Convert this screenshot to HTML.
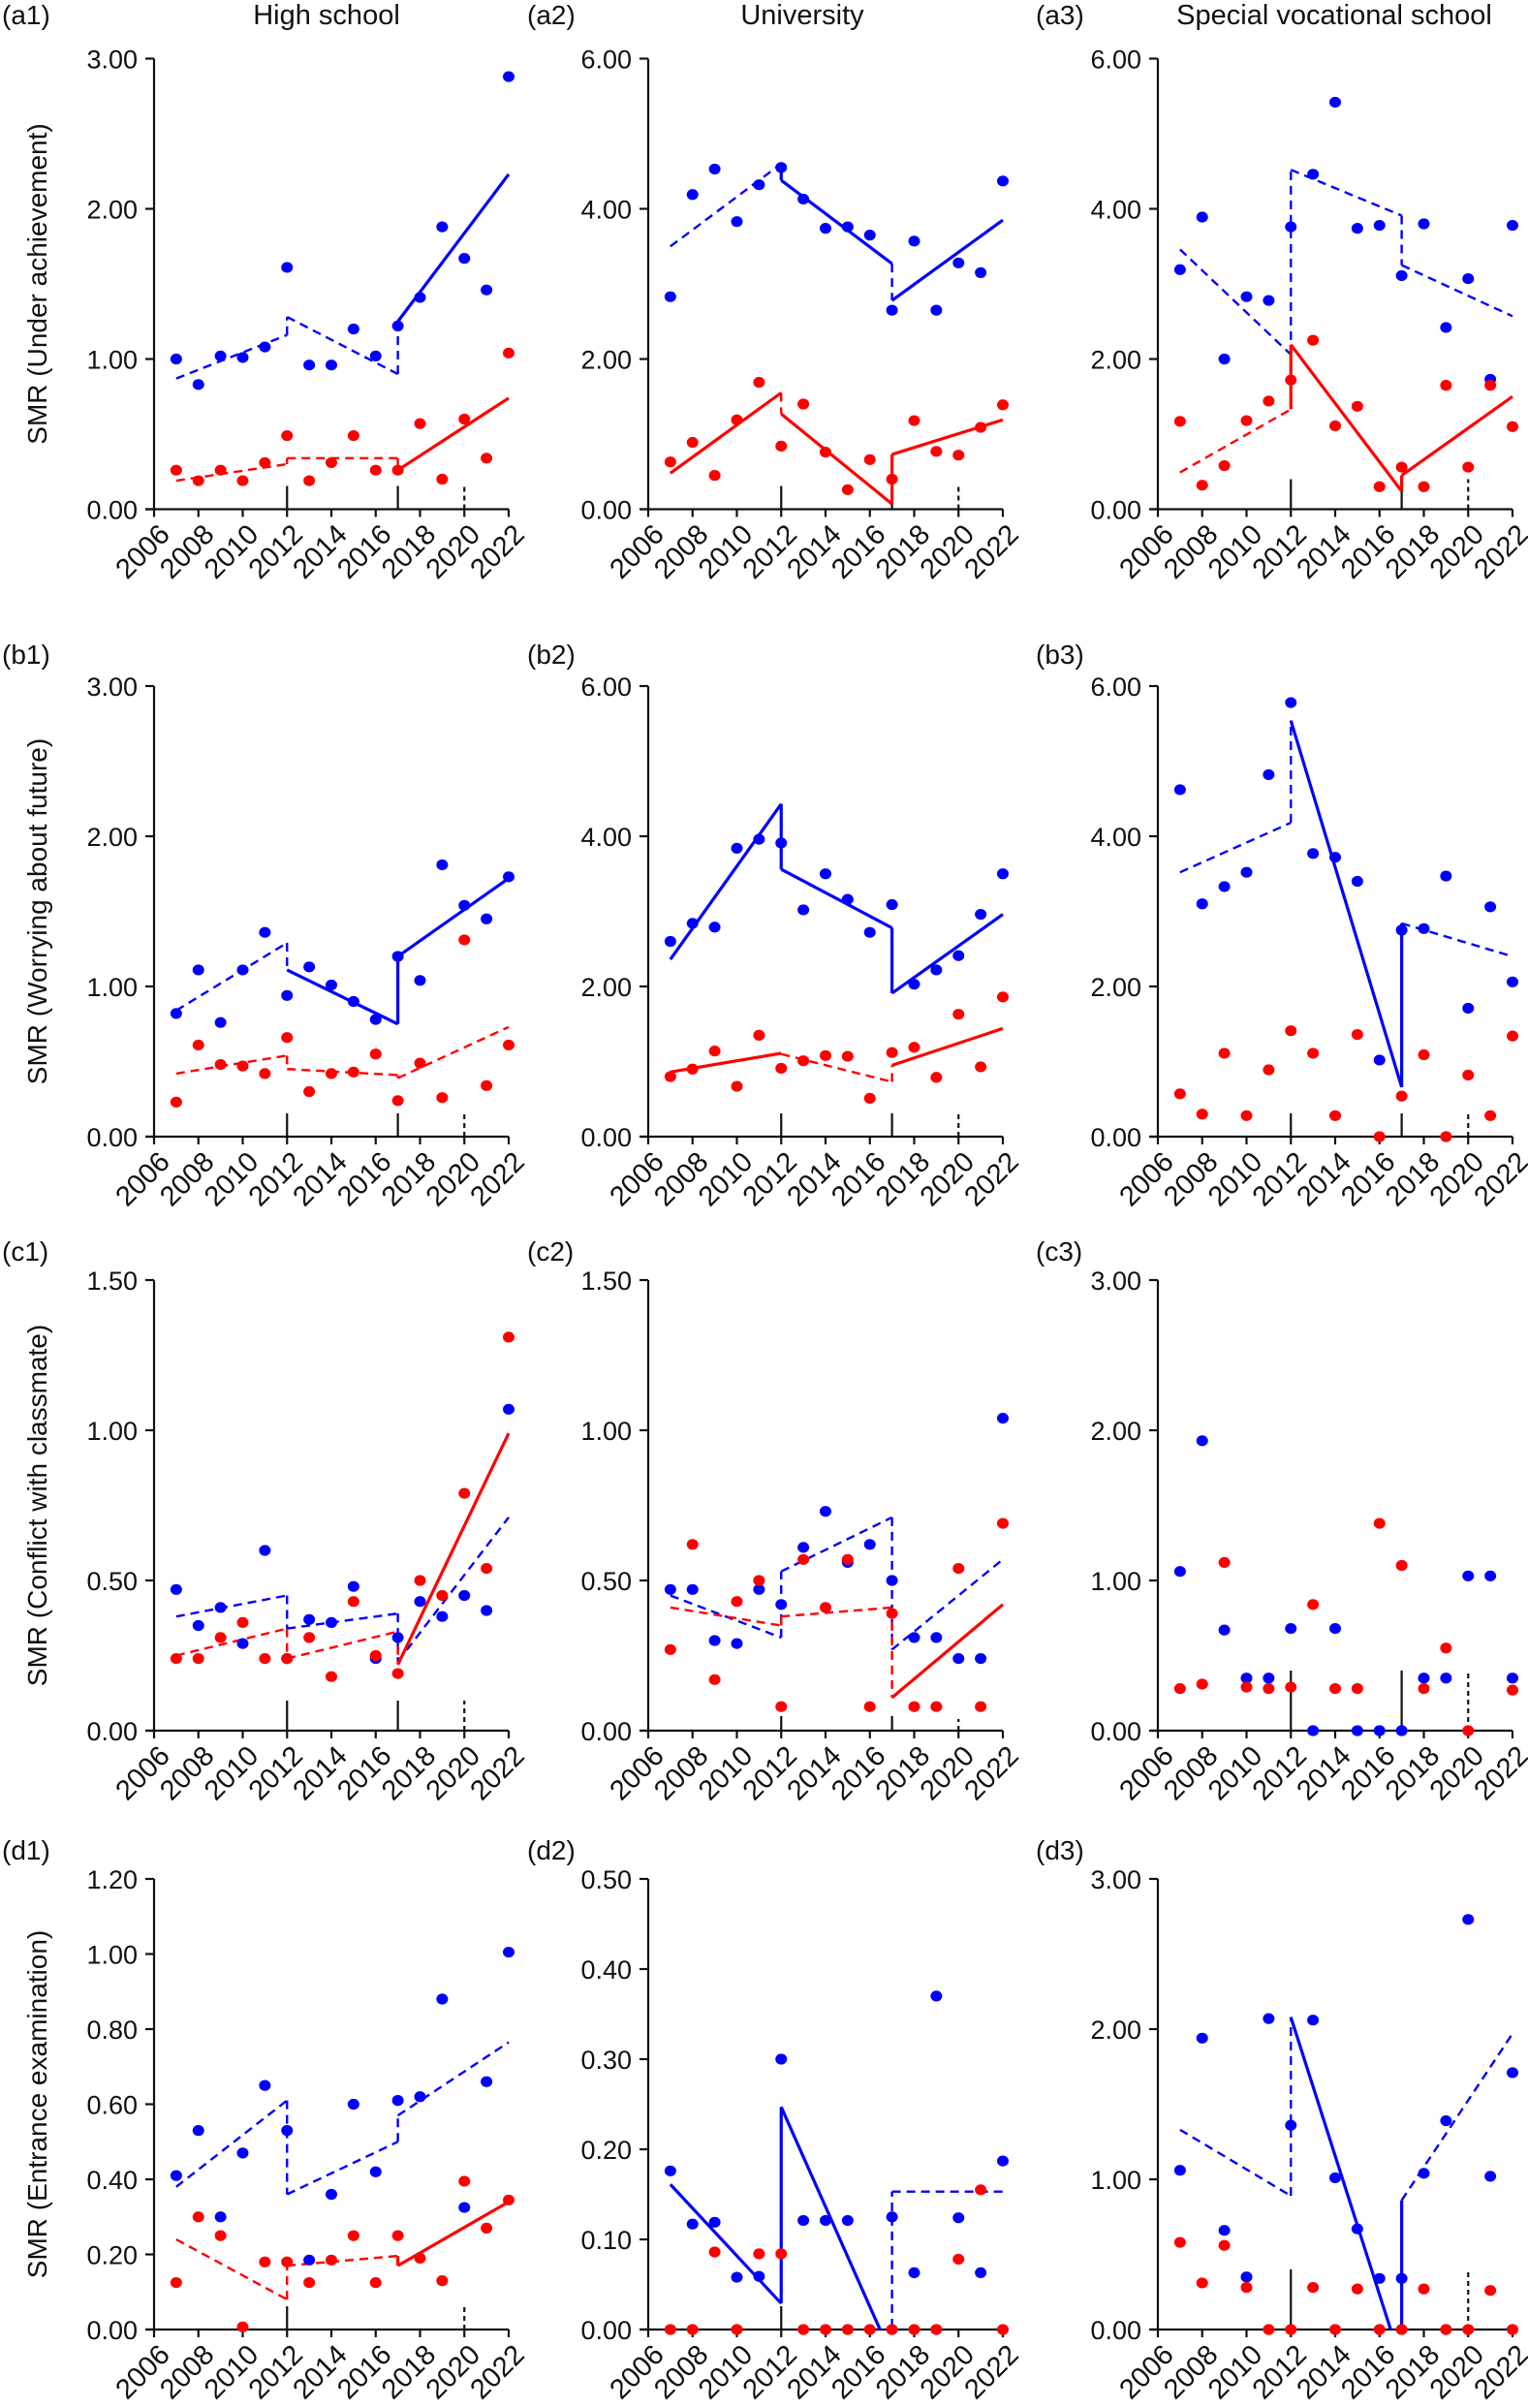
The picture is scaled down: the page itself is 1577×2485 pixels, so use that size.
<!DOCTYPE html>
<html>
<head>
<meta charset="utf-8">
<style>
html,body{margin:0;padding:0;background:#fff;}
svg{display:block;}
text{font-family:"Liberation Sans",sans-serif;fill:#111;}
</style>
</head>
<body>
<svg id="fig" width="1577" height="2485" viewBox="0 0 1577 2485" xmlns="http://www.w3.org/2000/svg">
<rect x="0" y="0" width="1577" height="2485" fill="#fff"/>
<text x="337" y="25" font-size="29" text-anchor="middle">High school</text>
<text x="828" y="25" font-size="29" text-anchor="middle">University</text>
<text x="1377" y="25" font-size="29" text-anchor="middle">Special vocational school</text>
</svg>
<script>
const years = [2007,2008,2009,2010,2011,2012,2013,2014,2015,2016,2017,2018,2019,2020,2021,2022];
const xTickYears = [2006,2008,2010,2012,2014,2016,2018,2020,2022];

const a1Blue = [1.00,0.83,1.02,1.01,1.08,1.61,0.96,0.96,1.20,1.02,1.22,1.41,1.88,1.67,1.46,2.88];
const a1Red  = [0.26,0.19,0.26,0.19,0.31,0.49,0.19,0.31,0.49,0.26,0.26,0.57,0.20,0.60,0.34,1.04];
const a1BlueFit = [0.87,1.16,1.28,0.90,1.25,2.23];
const a1RedFit  = [0.19,0.30,0.34,0.34,0.26,0.74];

const a2Blue = [2.83,4.19,4.53,3.83,4.32,4.55,4.13,3.74,3.76,3.65,2.65,3.57,2.65,3.28,3.15,4.37];
const a2Red  = [0.63,0.89,0.45,1.19,1.69,0.84,1.40,0.76,0.26,0.66,0.40,1.18,0.77,0.72,1.09,1.39];
const a2BlueFit = [3.50,4.60,4.38,3.27,2.78,3.85];
const a2RedFit  = [0.48,1.55,1.27,0.07,0.73,1.19];

const a3Blue = [3.19,3.89,2.00,2.83,2.78,3.76,4.46,5.42,3.74,3.78,3.11,3.80,2.42,3.07,1.73,3.78];
const a3Red  = [1.17,0.32,0.58,1.18,1.44,1.72,2.25,1.11,1.37,0.30,0.56,0.30,1.65,0.56,1.65,1.10];
const a3BlueFit = [3.46,2.06,4.52,3.91,3.25,2.57];
const a3RedFit  = [0.49,1.33,2.19,0.24,0.45,1.50];

const b1Blue = [0.82,1.11,0.76,1.11,1.36,0.94,1.13,1.01,0.90,0.78,1.20,1.04,1.81,1.54,1.45,1.73];
const b1Red  = [0.23,0.61,0.48,0.47,0.42,0.66,0.30,0.42,0.43,0.55,0.24,0.49,0.26,1.31,0.34,0.61];
const b1BlueFit = [0.84,1.29,1.11,0.75,1.20,1.72];
const b1RedFit  = [0.42,0.54,0.45,0.41,0.39,0.73];

const b2Blue = [2.60,2.84,2.79,3.84,3.96,3.91,3.02,3.50,3.16,2.72,3.09,2.03,2.22,2.41,2.96,3.50];
const b2Red  = [0.80,0.90,1.14,0.67,1.35,0.91,1.01,1.08,1.07,0.51,1.12,1.19,0.79,1.63,0.93,1.86];
const b2BlueFit = [2.36,4.43,3.56,2.78,1.91,2.96];
const b2RedFit  = [0.86,1.11,1.10,0.73,0.95,1.44];

const b3Blue = [4.62,3.10,3.33,3.52,4.82,5.78,3.77,3.72,3.40,1.02,2.75,2.77,3.47,1.71,3.06,2.06];
const b3Red  = [0.57,0.30,1.11,0.28,0.89,1.41,1.11,0.28,1.36,0.00,0.54,1.09,0.00,0.82,0.28,1.34];
const b3BlueFit = [3.52,4.18,5.54,0.66,2.84,2.40];

const c1Blue = [0.47,0.35,0.41,0.29,0.60,0.24,0.37,0.36,0.48,0.24,0.31,0.43,0.38,0.45,0.40,1.07];
const c1Red  = [0.24,0.24,0.31,0.36,0.24,0.24,0.31,0.18,0.43,0.25,0.19,0.50,0.45,0.79,0.54,1.31];
const c1BlueFit = [0.38,0.45,0.34,0.39,0.23,0.71];
const c1RedFit  = [0.25,0.34,0.24,0.33,0.22,0.99];

const c2Blue = [0.47,0.47,0.30,0.29,0.47,0.42,0.61,0.73,0.56,0.62,0.50,0.31,0.31,0.24,0.24,1.04];
const c2Red  = [0.27,0.62,0.17,0.43,0.50,0.08,0.57,0.41,0.57,0.08,0.39,0.08,0.08,0.54,0.08,0.69];
const c2BlueFit = [0.45,0.31,0.53,0.71,0.27,0.57];
const c2RedFit  = [0.41,0.35,0.38,0.41,0.11,0.42];

const c3Blue = [1.06,1.93,0.67,0.35,0.35,0.68,0.00,0.68,0.00,0.00,0.00,0.35,0.35,1.03,1.03,0.35];
const c3Red  = [0.28,0.31,1.12,0.29,0.28,0.29,0.84,0.28,0.28,1.38,1.10,0.28,0.55,0.00,null,0.27];

const d1Blue = [0.41,0.53,0.30,0.47,0.65,0.53,0.185,0.36,0.60,0.42,0.61,0.62,0.88,0.325,0.66,1.005];
const d1Red  = [0.125,0.30,0.25,0.007,0.18,0.18,0.125,0.185,0.25,0.125,0.25,0.19,0.13,0.395,0.27,0.345];
const d1BlueFit = [0.38,0.61,0.36,0.50,0.57,0.765];
const d1RedFit  = [0.24,0.08,0.17,0.196,0.17,0.34];

const d2Blue = [0.176,0.117,0.119,0.058,0.059,0.30,0.121,0.121,0.121,null,0.125,0.063,0.37,0.124,0.063,0.187];
const d2Red  = [0,0,0.086,0,0.084,0.084,0,0,0,0,0,0,0,0.078,0.155,0];
const d2BlueFit = [0.161,0.029,0.247,-0.03,0.153,0.153];

const d3Blue = [1.06,1.94,0.66,0.35,2.07,1.36,2.06,1.01,0.67,0.34,0.34,1.04,1.39,2.73,1.02,1.71];
const d3Red  = [0.58,0.31,0.56,0.28,0,0,0.28,0,0.27,0,0,0.27,0,0,0.26,0];
const d3BlueFit = [1.33,0.89,2.08,-0.23,0.86,1.97];

const ticks3 = [0,1,2,3];
const ticks6 = [0,2,4,6];
const ticks15 = [0,0.5,1,1.5];
const ticks12 = [0,0.2,0.4,0.6,0.8,1.0,1.2];
const ticks05 = [0,0.1,0.2,0.3,0.4,0.5];

const colX = [159, 669, 1195];
const rowY = [60.5, 708, 1321, 1939];
const PW = 366, PH = 465;
const yTitles = ["SMR (Under achievement)","SMR (Worrying about future)","SMR (Conflict with classmate)","SMR (Entrance examination)"];
const labelY = [25, 685, 1301, 1919];
const labelX = [2, 544, 1069];

const panels = [
 {id:'a1',r:0,c:0,max:3,ticks:ticks3,blue:a1Blue,red:a1Red,bf:a1BlueFit,rf:a1RedFit,bs:'ddsdd',rs:'ddsdd',mk:[[2012,24,0],[2017,24,0],[2020,24,1]]},
 {id:'a2',r:0,c:1,max:6,ticks:ticks6,blue:a2Blue,red:a2Red,bf:a2BlueFit,rf:a2RedFit,bs:'dsssd',rs:'sssds',mk:[[2012,24,0],[2017,24,0],[2020,24,1]]},
 {id:'a3',r:0,c:2,max:6,ticks:ticks6,blue:a3Blue,red:a3Red,bf:a3BlueFit,rf:a3RedFit,bs:'ddddd',rs:'dssss',mk:[[2012,31,0],[2017,31,0],[2020,31,1]]},
 {id:'b1',r:1,c:0,max:3,ticks:ticks3,blue:b1Blue,red:b1Red,bf:b1BlueFit,rf:b1RedFit,bs:'dssds',rs:'ddddd',mk:[[2012,24,0],[2017,24,0],[2020,24,1]]},
 {id:'b2',r:1,c:1,max:6,ticks:ticks6,blue:b2Blue,red:b2Red,bf:b2BlueFit,rf:b2RedFit,bs:'sssss',rs:'sdsdd',mk:[[2012,24,0],[2017,24,0],[2020,24,1]]},
 {id:'b3',r:1,c:2,max:6,ticks:ticks6,blue:b3Blue,red:b3Red,bf:b3BlueFit,rf:null,bs:'dsdds',rs:'',mk:[[2012,24,0],[2017,24,0],[2020,24,1]]},
 {id:'c1',r:2,c:0,max:1.5,ticks:ticks15,blue:c1Blue,red:c1Red,bf:c1BlueFit,rf:c1RedFit,bs:'ddddd',rs:'ddsdd',mk:[[2012,31,0],[2017,31,0],[2020,31,1]]},
 {id:'c2',r:2,c:1,max:1.5,ticks:ticks15,blue:c2Blue,red:c2Red,bf:c2BlueFit,rf:c2RedFit,bs:'ddddd',rs:'ddsdd',mk:[[2012,15,0],[2017,15,0],[2020,12,1]]},
 {id:'c3',r:2,c:2,max:3,ticks:ticks3,blue:c3Blue,red:c3Red,bf:null,rf:null,bs:'',rs:'',mk:[[2012,62,0],[2017,62,0],[2020,62,1]]},
 {id:'d1',r:3,c:0,max:1.2,ticks:ticks12,blue:d1Blue,red:d1Red,bf:d1BlueFit,rf:d1RedFit,bs:'ddddd',rs:'ddsds',mk:[[2012,24,0],[2020,24,1]]},
 {id:'d2',r:3,c:1,max:0.5,ticks:ticks05,blue:d2Blue,red:d2Red,bf:d2BlueFit,rf:null,bs:'ssdsd',rs:'',mk:[[2012,24,0]]},
 {id:'d3',r:3,c:2,max:3,ticks:ticks3,blue:d3Blue,red:d3Red,bf:d3BlueFit,rf:null,bs:'dsdds',rs:'',mk:[[2012,62,0],[2020,62,1]]}
];

const NS = "http://www.w3.org/2000/svg";
const svg = document.getElementById('fig');
function mk(tag, attrs, parent){
  const e = document.createElementNS(NS, tag);
  for (const k in attrs) e.setAttribute(k, attrs[k]);
  (parent||svg).appendChild(e);
  return e;
}

panels.forEach(p => {
  const x0 = colX[p.c], yTop = rowY[p.r], yBot = yTop + PH;
  const xs = yr => x0 + (yr - 2006) * PW / 16;
  const ys = v => yBot - v / p.max * PH;
  const g = mk('g', {});
  
  

  const lab = mk('text', {x: labelX[p.c], y: labelY[p.r], 'font-size': 28}, g);
  lab.textContent = '(' + p.id + ')';
  
  

  if (p.c === 0) {
    const cy = (yTop + yBot) / 2;
    const t = mk('text', {x: 0, y: 0, 'font-size': 28, 'text-anchor': 'middle', transform: `translate(48 ${cy}) rotate(-90)`}, g);
    t.textContent = yTitles[p.r];
    
    
  }

  const ax = mk('g', {stroke: '#111', 'stroke-width': 2.2, fill: 'none'}, g);
  
  
  mk('line', {x1: x0, y1: yTop, x2: x0, y2: yBot}, ax);
  mk('line', {x1: x0 - 9, y1: yBot, x2: xs(2022), y2: yBot}, ax);
  p.ticks.forEach(v => {
    mk('line', {x1: x0 - 9, y1: ys(v), x2: x0, y2: ys(v)}, ax);
    const t = mk('text', {x: x0 - 17, y: ys(v) + 10, 'font-size': 27, 'text-anchor': 'end'}, g);
    t.textContent = v.toFixed(2);
    
    
  });
  xTickYears.forEach(yr => {
    mk('line', {x1: xs(yr), y1: yBot, x2: xs(yr), y2: yBot + 8}, ax);
    const t = mk('text', {x: 0, y: 0, dy: '0.72em', 'font-size': 29, 'text-anchor': 'end', transform: `translate(${xs(yr) + 3} ${yBot + 13}) rotate(-45)`}, g);
    t.textContent = yr;
    
    
  });
  p.mk.forEach(m => {
    const l = mk('line', {x1: xs(m[0]), y1: yBot, x2: xs(m[0]), y2: yBot - m[1], stroke: '#111', 'stroke-width': 2.2}, g);
    if (m[2]) l.setAttribute('stroke-dasharray', '5 4');
    
    
  });

  const cp = mk('clipPath', {id: 'clip-' + p.id}, g);
  mk('rect', {x: x0, y: yTop - 20, width: PW + 20, height: PH + 20}, cp);

  function fit(vals, styles, color, name){
    if (!vals) return;
    const fg = mk('g', {'clip-path': `url(#clip-${p.id})`, stroke: color, fill: 'none'}, g);
    
    
    const segs = [[2007, vals[0], 2012, vals[1], styles[0]],
                  [2012, vals[2], 2017, vals[3], styles[1]],
                  [2017, vals[4], 2022, vals[5], styles[2]],
                  [2012, vals[1], 2012, vals[2], styles[3]],
                  [2017, vals[3], 2017, vals[4], styles[4]]];
    segs.forEach(s => {
      const l = mk('line', {x1: xs(s[0]), y1: ys(s[1]), x2: xs(s[2]), y2: ys(s[3])}, fg);
      if (s[4] === 'd') { l.setAttribute('stroke-width', 2.4); l.setAttribute('stroke-dasharray', '9 6'); }
      else l.setAttribute('stroke-width', 3.2);
    });
  }
  fit(p.bf, p.bs, '#0000ff', 'blue-fit-' + p.id);
  fit(p.rf, p.rs, '#ff0000', 'red-fit-' + p.id);

  function dots(vals, color, name){
    const dg = mk('g', {fill: color}, g);
    
    
    vals.forEach((v, i) => {
      if (v === null) return;
      const c = mk('ellipse', {cx: xs(years[i]), cy: ys(v), rx: 6, ry: 5.6}, dg);
      
      
    });
  }
  dots(p.blue, '#0000ff', 'blue-points-' + p.id);
  dots(p.red, '#ff0000', 'red-points-' + p.id);
});
</script>
</body>
</html>
